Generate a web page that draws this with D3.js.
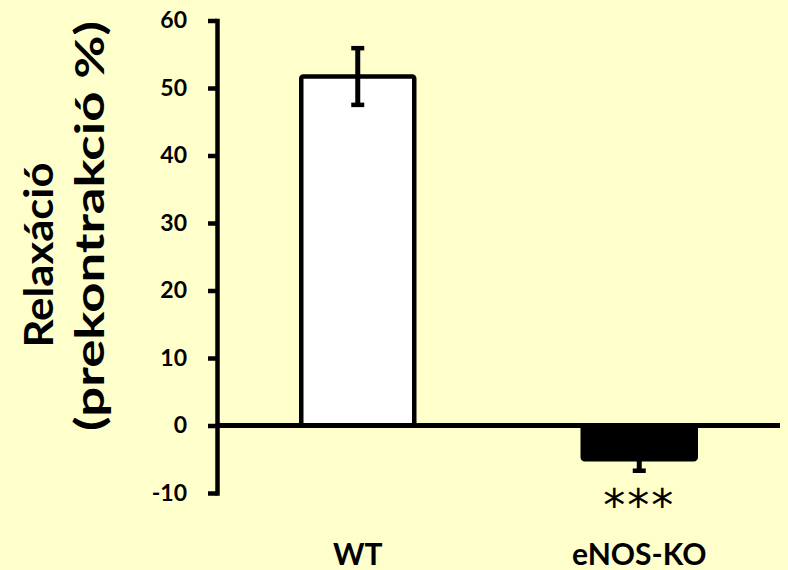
<!DOCTYPE html>
<html>
<head>
<meta charset="utf-8">
<script src="https://cdn.jsdelivr.net/npm/d3@7"></script>
<style>
  body { margin: 0; background: #ffffcc; }
  svg { display: block; }
  text { font-family: Lato, "Open Sans", sans-serif; font-weight: bold; fill: #000; }
</style>
</head>
<body>
<div id="chart-div"></div>
<script>
// data
const groups = ["WT", "eNOS-KO"];
const means = [51.7, -5.0];
const errors = [4.2, 1.7];
const fills = ["#ffffff", "#000000"];
const marks = ["", "***"];
const yTicks = [-10, 0, 10, 20, 30, 40, 50, 60];

const width = 788;
const height = 570;
const left = 217;
const right = 780;

const yScale = d3.scaleLinear().domain([-10, 60]).range([493, 20.5]);
const xScale = d3.scaleBand().domain(groups).range([left, right]).padding(0);
const barWidth = 113;

const svg = d3.select("#chart-div")
              .append("svg")
              .attr("width", width)
              .attr("height", height);

/* y axis */
const yAxis = d3.axisLeft(yScale)
                .tickValues(yTicks)
                .tickFormat((d) => String(d)) // plain hyphen, not the unicode minus
                .tickSize(9).tickSizeOuter(0).tickPadding(21);
const gy = svg.append("g")
              .attr("transform", `translate(${left},0)`)
              .call(yAxis);
gy.select(".domain").attr("stroke-width", 4.5).attr("stroke-linecap", "square");
gy.selectAll(".tick line").attr("stroke-width", 4.5);
gy.selectAll(".tick text").attr("font-size", 23).attr("font-family", "Lato").attr("font-weight", "bold");

// bars
svg.selectAll("rect.bar")
   .data(groups)
   .enter()
   .append("rect")
   .attr("class", "bar")
   .attr("x", (d) => xScale(d) + xScale.bandwidth() / 2 - barWidth / 2)
   .attr("y", (d, i) => yScale(Math.max(0, means[i])))
   .attr("width", barWidth)
   .attr("height", (d, i) => Math.abs(yScale(means[i]) - yScale(0)))
   .attr("rx", 2)
   .attr("fill", (d, i) => fills[i])
   .attr("stroke", "#000")
   .attr("stroke-width", 4.5);

/* x axis line through zero */
svg.append("line")
   .attr("x1", left).attr("x2", right)
   .attr("y1", yScale(0)).attr("y2", yScale(0))
   .attr("stroke", "#000")
   .attr("stroke-width", 5);

// error bars
const err = svg.selectAll("g.err")
               .data(groups)
               .enter()
               .append("g")
               .attr("class", "err")
               .attr("transform", (d) => `translate(${xScale(d) + xScale.bandwidth() / 2},0)`);
err.append("line")
   .attr("y1", (d, i) => yScale(means[i] + errors[i]))
   .attr("y2", (d, i) => yScale(means[i] - errors[i]))
   .attr("stroke", "#000").attr("stroke-width", 5);
[1, -1].forEach((s) => {
  err.append("line")
     .attr("x1", -6.5).attr("x2", 6.5)
     .attr("y1", (d, i) => yScale(means[i] + s * errors[i]))
     .attr("y2", (d, i) => yScale(means[i] + s * errors[i]))
     .attr("stroke", "#000").attr("stroke-width", 4.5);
});

// significance stars
svg.selectAll("text.mark")
   .data(groups)
   .enter()
   .append("text")
   .attr("class", "mark")
   .attr("x", (d) => xScale(d) + xScale.bandwidth() / 2)
   .attr("y", 521)
   .attr("text-anchor", "middle")
   .style("font-family", "'DejaVu Sans'")
   .style("font-weight", "normal")
   .style("font-size", "44px")
   .style("letter-spacing", "2px")
   .text((d, i) => marks[i]);

// category labels
svg.selectAll("text.cat")
   .data(groups)
   .enter()
   .append("text")
   .attr("class", "cat")
   .attr("x", (d) => xScale(d) + xScale.bandwidth() / 2)
   .attr("y", 565)
   .attr("text-anchor", "middle")
   .attr("font-size", 30)
   .text((d) => d);

/* y axis title, two rotated lines */
svg.append("text")
   .attr("transform", "translate(53,255) rotate(-90)")
   .attr("text-anchor", "middle")
   .attr("font-size", 40)
   .attr("textLength", 185)
   .attr("lengthAdjust", "spacingAndGlyphs")
   .text("Relaxáció");
svg.append("text")
   .attr("transform", "translate(104,226) rotate(-90)")
   .attr("text-anchor", "middle")
   .attr("font-size", 40)
   .attr("textLength", 410)
   .attr("lengthAdjust", "spacingAndGlyphs")
   .text("(prekontrakció %)");
</script>
</body>
</html>
